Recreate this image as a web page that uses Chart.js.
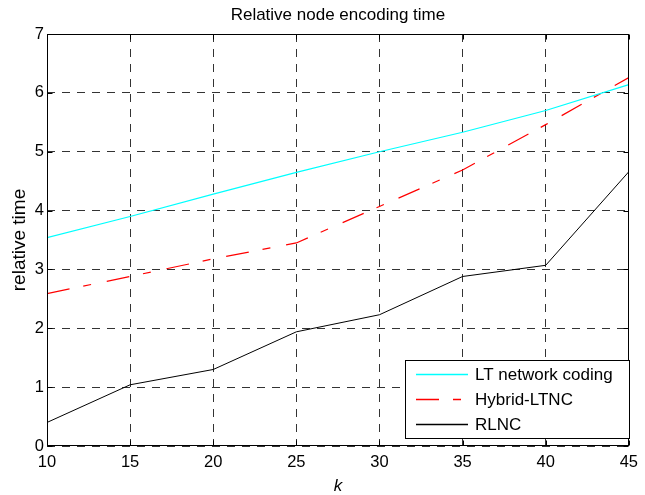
<!DOCTYPE html>
<html>
<head>
<meta charset="utf-8">
<title>Relative node encoding time</title>
<script src="https://cdn.jsdelivr.net/npm/chart.js@4.4.0/dist/chart.umd.min.js"></script>
<style>
    html, body { margin: 0; padding: 0; background: #fff; }
    #wrap { width: 645px; height: 495px; }
</style>
</head>
<body>
<div id="wrap"><canvas id="chart1"></canvas></div>
<script>
const kValues = [10, 15, 20, 25, 30, 35, 40, 45];
const ltCoding = [3.54, 3.90, 4.28, 4.65, 5.00, 5.33, 5.70, 6.14];
const hybridLtnc = [2.59, 2.88, 3.18, 3.45, 4.07, 4.69, 5.46, 6.26];
const rlnc = [0.40, 1.04, 1.30, 1.94, 2.23, 2.88, 3.07, 4.66];
const seriesNames = ['LT network coding', 'Hybrid-LTNC', 'RLNC'];
const xTicks = [10, 15, 20, 25, 30, 35, 40, 45];
const yTicks = [0, 1, 2, 3, 4, 5, 6, 7];

const FONT = "'Liberation Sans', Arial, Helvetica, sans-serif";

function toPoints(ys) {
    return kValues.map((k, i) => ({x: k, y: ys[i]}));
}

// axes box with inward ticks on all four sides
const framePlugin = {
    id: 'frame',
    afterDatasetsDraw(chart) {
        const {ctx, chartArea, scales} = chart;
        const l = Math.round(chartArea.left) + 0.5;
        const r = Math.round(chartArea.right) - 0.5;
        const t = Math.round(chartArea.top) + 0.5;
        const b = Math.round(chartArea.bottom) - 0.5;
        const len = 5;
        ctx.save();
        ctx.strokeStyle = '#000';
        ctx.lineWidth = 1;
        ctx.setLineDash([]);
        ctx.beginPath();
        scales.x.ticks.forEach(tk => {
            const px = Math.round(scales.x.getPixelForValue(tk.value)) + 0.5;
            ctx.moveTo(px, b); ctx.lineTo(px, b - len);
            ctx.moveTo(px, t); ctx.lineTo(px, t + len);
        });
        scales.y.ticks.forEach(tk => {
            const py = Math.round(scales.y.getPixelForValue(tk.value)) + 0.5;
            ctx.moveTo(l, py); ctx.lineTo(l + len, py);
            ctx.moveTo(r, py); ctx.lineTo(r - len, py);
        });
        ctx.stroke();
        ctx.strokeRect(l, t, r - l, b - t);
        ctx.restore();
    }
};

// boxed legend in the lower right corner of the plot
const legendBox = {
    id: 'legendBox',
    afterDraw(chart) {
        const {ctx, chartArea} = chart;
        const w = 225, h = 79;
        const x = Math.round(chartArea.right) + 1 - w;
        const y = Math.round(chartArea.bottom) - 7 - h;
        ctx.save();
        ctx.fillStyle = '#fff';
        ctx.fillRect(x, y, w, h);
        ctx.strokeStyle = '#000';
        ctx.lineWidth = 1;
        ctx.setLineDash([]);
        ctx.strokeRect(x + 0.5, y + 0.5, w - 1, h - 1);
        ctx.font = '17px ' + FONT;
        ctx.textBaseline = 'middle';
        ctx.textAlign = 'left';
        chart.data.datasets.forEach((ds, i) => {
            const rowY = y + 14.5 + i * 25;
            ctx.strokeStyle = ds.borderColor;
            ctx.lineWidth = 1.3;
            ctx.setLineDash(ds.borderDash || []);
            ctx.beginPath();
            ctx.moveTo(x + 11, rowY);
            ctx.lineTo(x + 63, rowY);
            ctx.stroke();
            ctx.fillStyle = '#000';
            ctx.fillText(ds.label, x + 70, rowY + 1);
        });
        ctx.restore();
    }
};

const ctx1 = document.getElementById('chart1');

const chart1 = new Chart(ctx1, {
    type: 'line',
    data: {
        datasets: [{
            label: seriesNames[0],
            data: toPoints(ltCoding),
            borderColor: '#00ffff',
            borderWidth: 1.2,
            pointRadius: 0,
            fill: false,
            tension: 0
        }, {
            label: seriesNames[1],
            data: toPoints(hybridLtnc),
            borderColor: '#ff0000',
            borderWidth: 1.2,
            borderDash: [23, 14, 8, 16],
            pointRadius: 0,
            fill: false,
            tension: 0
        }, {
            label: seriesNames[2],
            data: toPoints(rlnc),
            borderColor: '#000000',
            borderWidth: 1,
            pointRadius: 0,
            fill: false,
            tension: 0
        }]
    },
    plugins: [framePlugin, legendBox],
    options: {
        responsive: true,
        maintainAspectRatio: false,
        animation: false,
        layout: {
            padding: {left: 0, right: 9, top: 0, bottom: 0}
        },
        plugins: {
            legend: {display: false},
            tooltip: {enabled: false},
            title: {
                display: true,
                text: 'Relative node encoding time',
                fullSize: false,
                color: '#000',
                font: {family: FONT, size: 17, weight: 'normal', lineHeight: 1.2},
                padding: {top: 5, bottom: 8.6}
            }
        },
        scales: {
            x: {
                type: 'linear',
                min: 10,
                max: 45,
                afterBuildTicks: scale => { scale.ticks = xTicks.map(v => ({value: v})); },
                afterFit: scale => { scale.height = 49; },
                ticks: {
                    color: '#000',
                    font: {family: FONT, size: 16.5},
                    padding: 7,
                    maxRotation: 0
                },
                grid: {
                    color: 'rgba(0,0,0,0.8)',
                    lineWidth: 1,
                    drawTicks: false
                },
                border: {display: false, dash: [8, 7]},
                title: {
                    display: true,
                    text: 'k',
                    color: '#000',
                    font: {family: FONT, size: 17, style: 'italic', lineHeight: 1},
                    padding: {top: 0, bottom: 0}
                }
            },
            y: {
                type: 'linear',
                min: 0,
                max: 7,
                afterBuildTicks: scale => { scale.ticks = yTicks.map(v => ({value: v})); },
                afterFit: scale => { scale.width = 47; },
                ticks: {
                    color: '#000',
                    font: {family: FONT, size: 16.5},
                    padding: 3
                },
                grid: {
                    color: 'rgba(0,0,0,0.8)',
                    lineWidth: 1,
                    drawTicks: false
                },
                border: {display: false, dash: [8, 7]},
                title: {
                    display: true,
                    text: 'relative time',
                    color: '#000',
                    font: {family: FONT, size: 19, lineHeight: 1.25},
                    padding: {top: 8, bottom: 0}
                }
            }
        }
    }
});
</script>
</body>
</html>
